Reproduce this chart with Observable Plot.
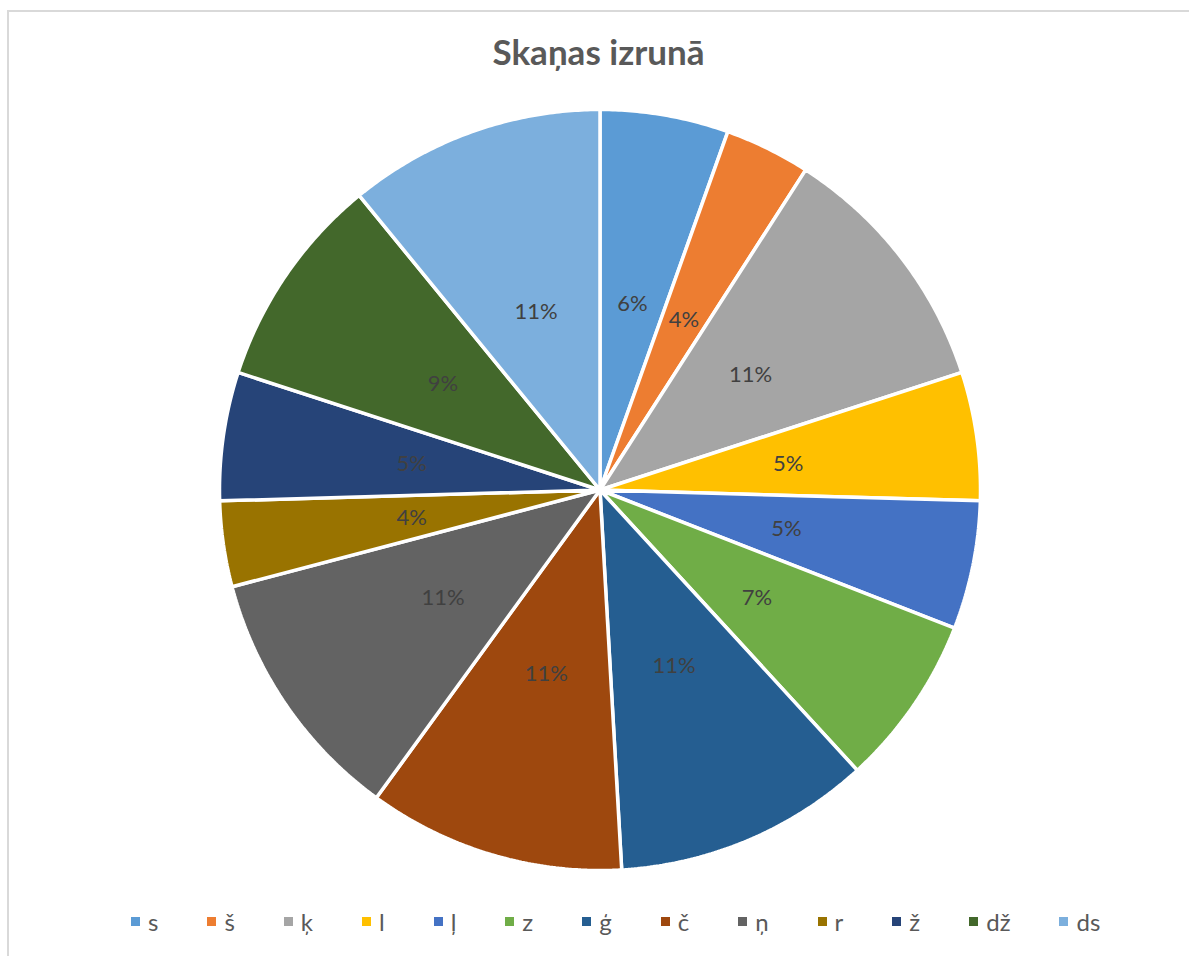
<!DOCTYPE html>
<html>
<head>
<meta charset="utf-8">
<script src="https://cdn.jsdelivr.net/npm/d3@7"></script>
<script src="https://cdn.jsdelivr.net/npm/@observablehq/plot@0.6"></script>
<style>
  html, body { margin: 0; padding: 0; background: #fff; overflow: hidden; }
  #wrap { position: relative; width: 1189px; height: 956px; font-family: Lato, "Open Sans", sans-serif; }
  #frame { position: absolute; left: 7px; top: 10px; width: 1300px; height: 1000px; border-left: 2px solid #d9d9d9; border-top: 2px solid #d9d9d9; box-sizing: border-box; }
  #title { position: absolute; left: 0; width: 1197px; top: 30px; text-align: center; font-weight: bold; font-size: 35px; color: #595959; }
  #chart { position: absolute; left: 0; top: 100px; }
  #legend { position: absolute; left: 131px; top: 906px; height: 30px; display: flex; align-items: center; gap: 49px; font-size: 24px; color: #595959; }
  .item { display: flex; align-items: center; gap: 8px; }
  .sw { width: 9px; height: 9px; display: inline-block; }
</style>
</head>
<body>
<div id="wrap">
  <div id="frame"></div>
  <div id="title">Skaņas izrunā</div>
  <div id="chart"></div>
  <div id="legend"></div>
</div>
<script>
// Data
const categories = ["s", "š", "ķ", "l", "ļ", "z", "ģ", "č", "ņ", "r", "ž", "dž", "ds"];
const counts     = [3, 2, 6, 3, 3, 4, 6, 6, 6, 2, 3, 5, 6];
const labels     = ["6%", "4%", "11%", "5%", "5%", "7%", "11%", "11%", "11%", "4%", "5%", "9%", "11%"];
const colors     = ["#5B9BD5", "#ED7D31", "#A5A5A5", "#FFC000", "#4472C4", "#70AD47", "#255E91",
                    "#9E480E", "#636363", "#997300", "#264478", "#43682B", "#7CAFDD"];

const rows = categories.map((c, i) => ({cat: c, value: counts[i], label: labels[i]}));
const arcs = d3.pie().sort(null).value(d => d.value)(rows);

// polygon outlines of each slice in unit coordinates (angle clockwise from top)
const outline = [];
for (const a of arcs) {
  outline.push({cat: a.data.cat, x: 0, y: 0});
  const n = Math.max(8, Math.ceil((a.endAngle - a.startAngle) * 120));
  for (let k = 0; k <= n; k++) {
    const t = a.startAngle + (a.endAngle - a.startAngle) * k / n;
    outline.push({cat: a.data.cat, x: Math.sin(t), y: Math.cos(t)});
  }
}
const labelPts = arcs.map(a => {
  const m = (a.startAngle + a.endAngle) / 2;
  return {cat: a.data.cat, label: a.data.label, x: 0.5 * Math.sin(m), y: 0.5 * Math.cos(m)};
});

const W = 1189, H = 790, R = 380.5, cx = 599.5, cy = 389.5;
const chart = Plot.plot({
  width: W,
  height: H,
  marginLeft: cx - R,
  marginRight: W - cx - R,
  marginTop: cy - R,
  marginBottom: H - cy - R,
  x: {domain: [-1, 1], axis: null},
  y: {domain: [-1, 1], axis: null},
  color: {domain: categories, range: colors},
  style: {fontFamily: "Lato, 'Open Sans', sans-serif", background: "transparent", overflow: "visible"},
  marks: [
    Plot.line(outline, {x: "x", y: "y", z: "cat", fill: "cat", stroke: "white", strokeWidth: 3.5, curve: "linear-closed", strokeLinejoin: "miter"}),
    Plot.text(labelPts, {x: "x", y: "y", text: "label", fill: "#404040", fontSize: 22, dy: 1})
  ]
});
document.getElementById("chart").appendChild(chart);

const legend = document.getElementById("legend");
categories.forEach((c, i) => {
  const it = document.createElement("div");
  it.className = "item";
  const sw = document.createElement("span");
  sw.className = "sw";
  sw.style.background = colors[i];
  const tx = document.createElement("span");
  tx.textContent = c;
  it.appendChild(sw);
  it.appendChild(tx);
  legend.appendChild(it);
});
</script>
</body>
</html>
